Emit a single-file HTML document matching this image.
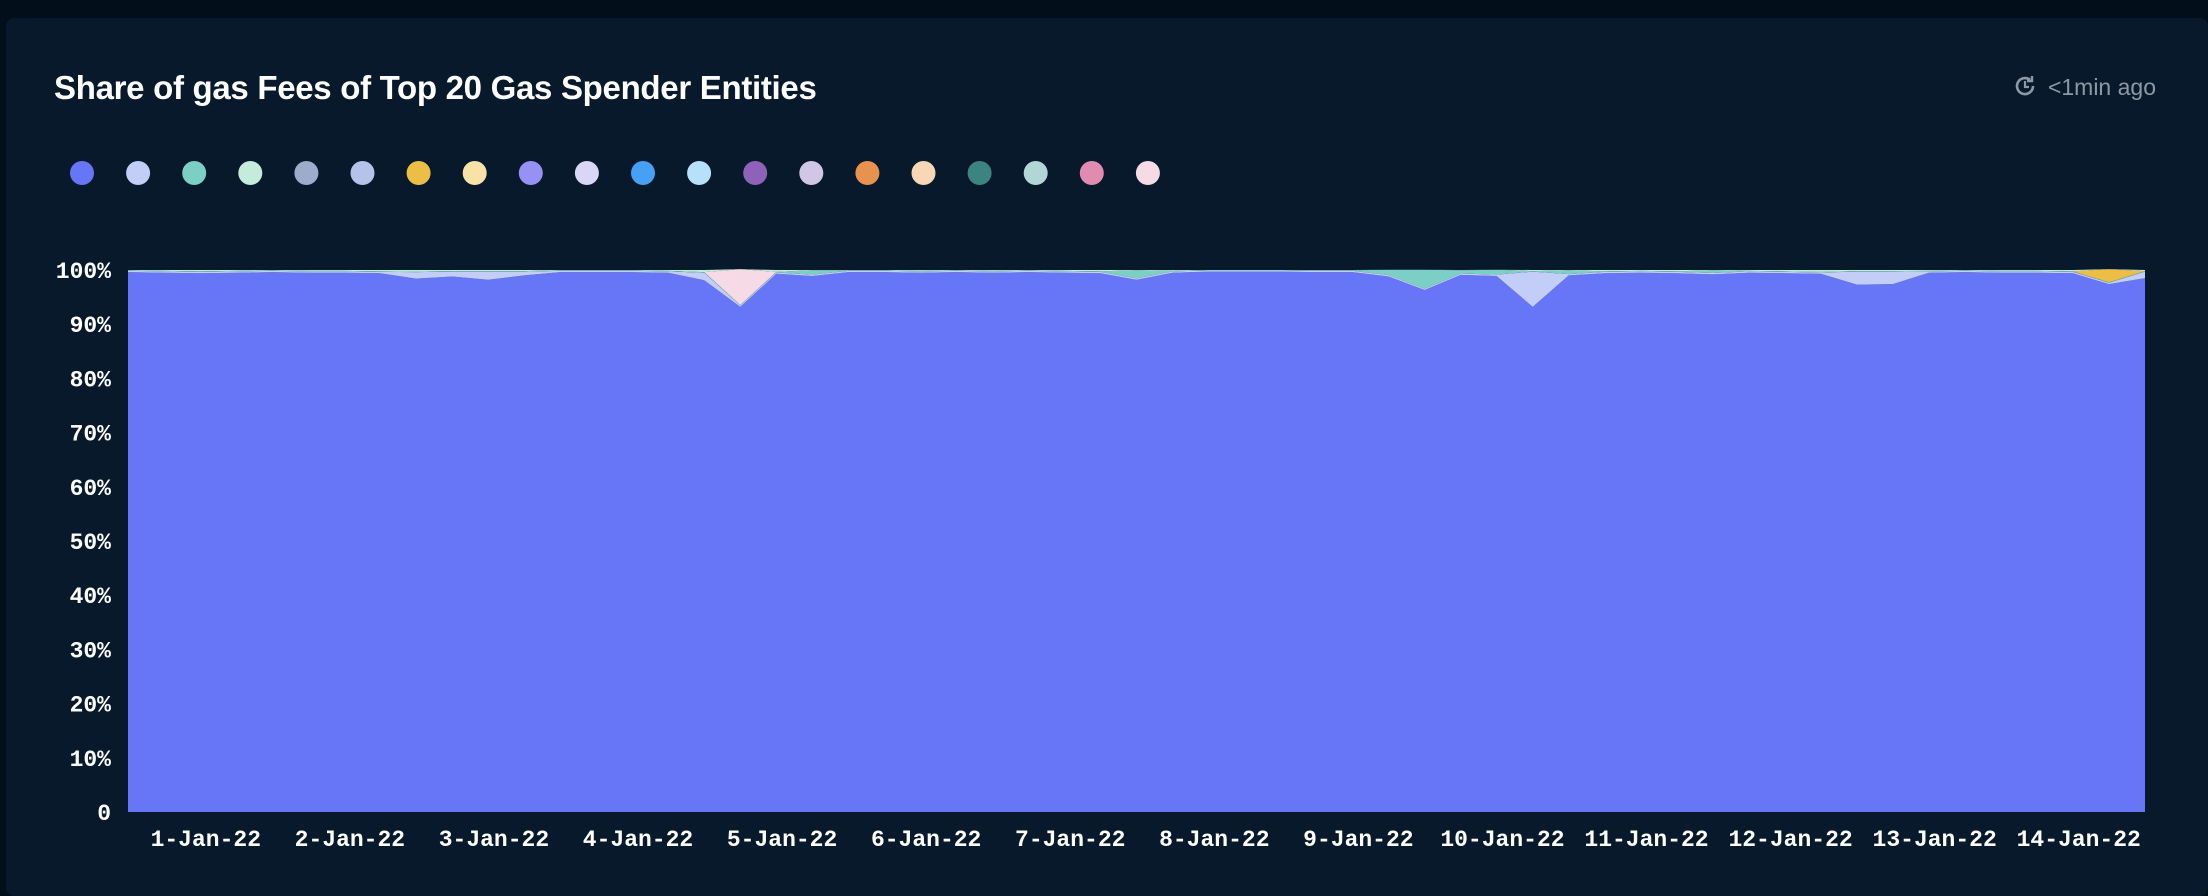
<!DOCTYPE html>
<html><head><meta charset="utf-8"><style>
html,body{margin:0;padding:0;background:#020f1a;width:2208px;height:896px;overflow:hidden}
#card{position:absolute;left:6px;top:18px;width:2202px;height:878px;background:#07192b;border-radius:8px}
#title{position:absolute;left:54px;top:69px;font:600 33px "Liberation Sans",sans-serif;color:#fff;letter-spacing:-0.3px}
#ago{position:absolute;right:52px;top:74px;font:23px "Liberation Sans",sans-serif;color:#8e99a5}
svg{position:absolute;left:0;top:0}
</style></head><body>
<div id="card"></div>
<div id="title">Share of gas Fees of Top 20 Gas Spender Entities</div>
<div id="ago"><svg width="26" height="26" style="position:absolute;left:-36px;top:-1px" viewBox="0 0 26 26"><path d="M21 13a8 8 0 1 1-3-6.2" fill="none" stroke="#8e99a5" stroke-width="2.6"/><path d="M13 8v6h4" fill="none" stroke="#8e99a5" stroke-width="2.2"/><path d="M20 3v5h-5" fill="none" stroke="#8e99a5" stroke-width="2.4"/></svg>&lt;1min ago</div>
<svg id="chart" width="2208" height="896"></svg>
<script>
const legendColors=["#6776f6","#c2cdf8","#7bcfc5","#c4ebdb","#9eabcc","#b5c3eb","#ecbe45","#f8e2a6","#9891f5","#d9d6f8","#46a1f5","#b7e0fb","#8e62b9","#d2c6e6","#e8924f","#f8d7b7","#3c8480","#b2d6d6","#e18bb0","#f6dbe6"];
const yTicks=[0,10,20,30,40,50,60,70,80,90,100];
const yTickLabels=["0","10%","20%","30%","40%","50%","60%","70%","80%","90%","100%"];
const xLabels=["1-Jan-22","2-Jan-22","3-Jan-22","4-Jan-22","5-Jan-22","6-Jan-22","7-Jan-22","8-Jan-22","9-Jan-22","10-Jan-22","11-Jan-22","12-Jan-22","13-Jan-22","14-Jan-22"];
const seriesMain=[99.6,99.5,99.4,99.5,99.6,99.5,99.5,99.4,98.4,98.8,98.2,99,99.6,99.6,99.6,99.5,98.1,93.2,99.3,98.9,99.6,99.6,99.5,99.6,99.5,99.6,99.5,99.4,98.2,99.5,99.7,99.7,99.7,99.6,99.6,98.8,96.3,99.1,98.9,93.2,99,99.4,99.5,99.4,99.2,99.5,99.4,99.3,97.3,97.4,99.5,99.6,99.5,99.5,99.4,97.4,98.5];
const seriesLavender=[0.25,0.25,0.25,0.25,0.25,0.25,0.25,0.25,1.2,0.9,1.5,0.7,0.25,0.25,0.25,0.25,1.4,0.25,0.25,0.25,0.25,0.25,0.25,0.25,0.25,0.25,0.25,0.25,0.25,0.25,0.2,0.2,0.2,0.25,0.25,0.25,0.25,0.25,0.25,6.5,0.25,0.25,0.25,0.25,0.25,0.25,0.25,0.25,2.4,2.3,0.25,0.25,0.25,0.25,0.25,0.25,1.2];
const seriesTeal=[0.1,0.1,0.1,0.1,0.1,0.1,0.1,0.1,0.1,0.1,0.1,0.1,0.1,0.1,0.1,0.1,0.1,0.1,0.1,0.8,0.1,0.1,0.1,0.1,0.1,0.1,0.1,0.1,1.5,0.1,0.1,0.1,0.1,0.1,0.1,1.0,3.5,0.6,0.9,0.1,0.7,0.1,0.1,0.1,0.5,0.1,0.1,0.1,0.1,0.1,0.1,0.1,0.1,0.1,0.1,0.1,0.1];
const seriesPink=[0,0,0,0,0,0,0,0,0,0,0,0,0,0,0,0,0,6.6,0,0,0,0,0,0,0,0,0,0,0,0,0,0,0,0,0,0,0,0,0,0,0,0,0,0,0,0,0,0,0,0,0,0,0,0,0,0,0];
const seriesYellow=[0,0,0,0,0,0,0,0,0,0,0,0,0,0,0,0,0,0,0,0,0,0,0,0,0,0,0,0,0,0,0,0,0,0,0,0,0,0,0,0,0,0,0,0,0,0,0,0,0,0,0,0,0,0,0,2.4,0];

const NS="http://www.w3.org/2000/svg";
const svg=document.getElementById('chart');
const L=128,R=2145,T=270,B=812;
const nDays=14;
const xScale=d=>L+(d/nDays)*(R-L);
const yScale=v=>B-(v/100)*(B-T);
function mk(tag,attrs){const e=document.createElementNS(NS,tag);for(const k in attrs)e.setAttribute(k,attrs[k]);svg.appendChild(e);return e;}

legendColors.forEach((c,i)=>{
  const e=mk('circle',{cx:82+i*56.1,cy:173,r:12,fill:c});
  
  
});

const n=seriesMain.length;
const seriesRest=seriesMain.map((v,i)=>Math.max(0,100-v-seriesLavender[i]-seriesTeal[i]-seriesPink[i]-seriesYellow[i]));
const stack=[[seriesMain,"#6776f6","area-main"],[seriesLavender,"#c2cdf8","area-lavender"],[seriesTeal,"#7bcfc5","area-teal"],[seriesPink,"#f6dbe6","area-pink"],[seriesYellow,"#ecbe45","area-yellow"],[seriesRest,"#c4ebdb","area-other"]];
let base=new Array(n).fill(0);
const xAt=i=>xScale(i*nDays/(n-1));
stack.forEach(([vals,col,name])=>{
  const top=vals.map((v,i)=>base[i]+v);
  let d='M'+xAt(0)+','+yScale(top[0]);
  for(let i=1;i<n;i++)d+='L'+xAt(i)+','+yScale(top[i]);
  for(let i=n-1;i>=0;i--)d+='L'+xAt(i)+','+yScale(base[i]);
  d+='Z';
  const p=mk('path',{d:d,fill:col});
  
  
  base=top;
});

yTicks.forEach((v,i)=>{
  const t=mk('text',{x:111,y:yScale(v)+8,'text-anchor':'end',fill:'#ffffff','font-family':'Liberation Mono, monospace','font-weight':'bold','font-size':'23'});
  t.textContent=yTickLabels[i];
  
  
});
xLabels.forEach((s,i)=>{
  const t=mk('text',{x:xScale(i+0.54),y:846,'text-anchor':'middle',fill:'#ffffff','font-family':'Liberation Mono, monospace','font-weight':'bold','font-size':'23'});
  t.textContent=s;
  
  
});
</script>
</body></html>
